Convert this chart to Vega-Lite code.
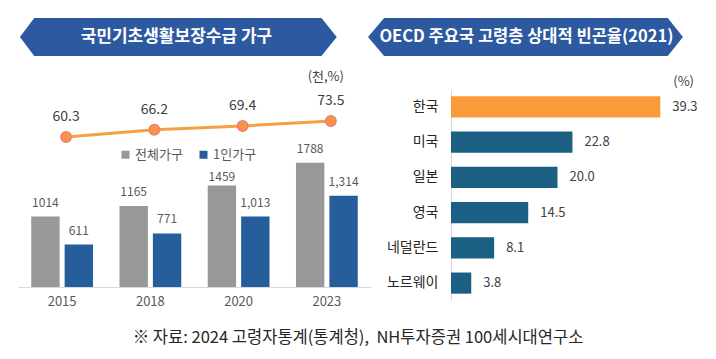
{
  "$schema": "https://vega.github.io/schema/vega-lite/v6.json",
  "padding": {"left": 18, "top": 18, "right": 0, "bottom": 0},
  "background": "white",
  "config": {
    "view": {"stroke": null},
    "font": "Noto Sans CJK KR"
  },
  "datasets": {
    "households": [
      {"year": "2015", "type": "전체가구", "value": 1014},
      {"year": "2015", "type": "1인가구", "value": 611},
      {"year": "2018", "type": "전체가구", "value": 1165},
      {"year": "2018", "type": "1인가구", "value": 771},
      {"year": "2020", "type": "전체가구", "value": 1459},
      {"year": "2020", "type": "1인가구", "value": 1013},
      {"year": "2023", "type": "전체가구", "value": 1788},
      {"year": "2023", "type": "1인가구", "value": 1314}
    ],
    "ratio": [
      {"year": "2015", "rate": 60.3},
      {"year": "2018", "rate": 66.2},
      {"year": "2020", "rate": 69.4},
      {"year": "2023", "rate": 73.5}
    ],
    "poverty": [
      {"country": "한국", "value": 39.3},
      {"country": "미국", "value": 22.8},
      {"country": "일본", "value": 20.0},
      {"country": "영국", "value": 14.5},
      {"country": "네덜란드", "value": 8.1},
      {"country": "노르웨이", "value": 3.8}
    ],
    "bannerL": [
      {"bx": 2, "lo": 0.5, "hi": 0.5},
      {"bx": 17, "lo": 0, "hi": 1},
      {"bx": 318, "lo": 0, "hi": 1},
      {"bx": 334, "lo": 0.5, "hi": 0.5}
    ],
    "bannerR": [
      {"bx": 0, "lo": 0.5, "hi": 0.5},
      {"bx": 17, "lo": 0, "hi": 1},
      {"bx": 316, "lo": 0, "hi": 1},
      {"bx": 332, "lo": 0.5, "hi": 0.5}
    ]
  },
  "spacing": 15,
  "vconcat": [
    {
      "bounds": "flush",
      "spacing": 16,
      "hconcat": [
        {
          "width": 334,
          "height": 38,
          "layer": [
            {
              "data": {"name": "bannerL"},
              "mark": {"type": "area", "color": "#2D59A0", "orient": "vertical"},
              "encoding": {
                "x": {"field": "bx", "type": "quantitative", "scale": {"domain": [0, 334]}, "axis": null},
                "y": {"field": "lo", "type": "quantitative", "scale": {"domain": [0, 1]}, "axis": null},
                "y2": {"field": "hi"}
              }
            },
            {
              "data": {"values": [{"title": "국민기초생활보장수급 가구"}]},
              "mark": {"type": "text", "color": "white", "fontSize": 17, "fontWeight": "bold", "align": "center", "baseline": "middle"},
              "encoding": {
                "x": {"datum": 166, "type": "quantitative"},
                "y": {"datum": 0.5, "type": "quantitative"},
                "text": {"field": "title"}
              }
            }
          ]
        },
        {
          "width": 332,
          "height": 38,
          "layer": [
            {
              "data": {"name": "bannerR"},
              "mark": {"type": "area", "color": "#2D59A0", "orient": "vertical"},
              "encoding": {
                "x": {"field": "bx", "type": "quantitative", "scale": {"domain": [0, 332]}, "axis": null},
                "y": {"field": "lo", "type": "quantitative", "scale": {"domain": [0, 1]}, "axis": null},
                "y2": {"field": "hi"}
              }
            },
            {
              "data": {"values": [{"title": "OECD 주요국 고령층 상대적 빈곤율(2021)"}]},
              "mark": {"type": "text", "color": "white", "fontSize": 16.5, "fontWeight": "bold", "align": "center", "baseline": "middle"},
              "encoding": {
                "x": {"datum": 167, "type": "quantitative"},
                "y": {"datum": 0.5, "type": "quantitative"},
                "text": {"field": "title"}
              }
            }
          ]
        }
      ]
    },
    {
      "bounds": "flush",
      "spacing": 80,
      "hconcat": [
        {
          "width": 353,
          "height": 197,
          "title": {"text": "(천,%)", "anchor": "end", "frame": "group", "fontSize": 13, "fontWeight": "normal", "color": "#404040", "offset": 6, "dx": -27},
          "layer": [
            {
              "data": {"name": "households"},
              "mark": {"type": "bar"},
              "encoding": {
                "x": {"field": "year", "type": "nominal", "title": null,
                  "scale": {"paddingInner": 0.3, "paddingOuter": 0.15},
                  "axis": {"labelAngle": 0, "ticks": false, "domainColor": "#D9D9D9", "labelFontSize": 13, "labelColor": "#595959", "labelPadding": 8}},
                "xOffset": {"field": "type", "sort": ["전체가구", "1인가구"], "scale": {"paddingInner": 0.15}},
                "y": {"field": "value", "type": "quantitative", "scale": {"domain": [0, 2835]}, "axis": null},
                "color": {"field": "type", "type": "nominal",
                  "scale": {"domain": ["전체가구", "1인가구"], "range": ["#989898", "#255E9B"]},
                  "legend": {"title": null, "orient": "none", "legendX": 101, "legendY": 130, "direction": "horizontal",
                    "symbolType": "square", "symbolSize": 64, "labelFontSize": 13, "labelColor": "#595959", "columnPadding": 14, "labelOffset": 3}}
              }
            },
            {
              "data": {"name": "households"},
              "transform": [{"filter": "datum.type === '전체가구' && datum.year !== '2020'"}],
              "mark": {"type": "text", "baseline": "bottom", "dy": -7, "fontSize": 12, "color": "#595959"},
              "encoding": {
                "x": {"field": "year", "type": "nominal"},
                "xOffset": {"field": "type", "sort": ["전체가구", "1인가구"]},
                "y": {"field": "value", "type": "quantitative", "scale": {"domain": [0, 2835]}, "axis": null},
                "text": {"field": "value", "type": "quantitative", "format": "d"}
              }
            },
            {
              "data": {"name": "households"},
              "transform": [{"filter": "datum.type === '전체가구' && datum.year === '2020'"}],
              "mark": {"type": "text", "baseline": "bottom", "dy": -2, "fontSize": 12, "color": "#595959"},
              "encoding": {
                "x": {"field": "year", "type": "nominal"},
                "xOffset": {"field": "type", "sort": ["전체가구", "1인가구"]},
                "y": {"field": "value", "type": "quantitative", "scale": {"domain": [0, 2835]}, "axis": null},
                "text": {"field": "value", "type": "quantitative", "format": "d"}
              }
            },
            {
              "data": {"name": "households"},
              "transform": [{"filter": "datum.type === '1인가구'"}],
              "mark": {"type": "text", "baseline": "bottom", "dy": -7, "fontSize": 12, "color": "#595959"},
              "encoding": {
                "x": {"field": "year", "type": "nominal"},
                "xOffset": {"field": "type", "sort": ["전체가구", "1인가구"]},
                "y": {"field": "value", "type": "quantitative", "scale": {"domain": [0, 2835]}, "axis": null},
                "text": {"field": "value", "type": "quantitative", "format": ","}
              }
            },
            {
              "data": {"name": "ratio"},
              "mark": {"type": "line", "color": "#F5A142", "strokeWidth": 3, "xOffset": 4},
              "encoding": {
                "x": {"field": "year", "type": "nominal"},
                "y": {"field": "rate", "type": "quantitative", "scale": {"domain": [-63.7, 99.1]}, "axis": null}
              }
            },
            {
              "data": {"name": "ratio"},
              "mark": {"type": "point", "filled": true, "size": 110, "fill": "#F7934A", "stroke": "#F27E6E", "strokeWidth": 1.5, "opacity": 1, "xOffset": 4},
              "encoding": {
                "x": {"field": "year", "type": "nominal"},
                "y": {"field": "rate", "type": "quantitative", "scale": {"domain": [-63.7, 99.1]}, "axis": null}
              }
            },
            {
              "data": {"name": "ratio"},
              "mark": {"type": "text", "dy": -20, "baseline": "middle", "fontSize": 14, "color": "#404040", "xOffset": 4},
              "encoding": {
                "x": {"field": "year", "type": "nominal"},
                "y": {"field": "rate", "type": "quantitative", "scale": {"domain": [-63.7, 99.1]}, "axis": null},
                "text": {"field": "rate", "type": "quantitative", "format": ".1f"}
              }
            }
          ],
          "resolve": {"scale": {"y": "independent"}}
        },
        {
          "width": 229,
          "height": 210,
          "title": {"text": "(%)", "anchor": "end", "frame": "group", "fontSize": 13, "fontWeight": "normal", "color": "#404040", "offset": 1, "dx": 14},
          "data": {"name": "poverty"},
          "encoding": {
            "y": {"field": "country", "type": "nominal", "sort": null, "title": null,
              "scale": {"paddingInner": 0.4, "paddingOuter": 0.18},
              "axis": {"ticks": false, "domainColor": "#D9D9D9", "labelFontSize": 14, "labelPadding": 13, "labelColor": "#262626"}},
            "x": {"field": "value", "type": "quantitative", "scale": {"domain": [0, 43]}, "axis": null}
          },
          "layer": [
            {
              "mark": {"type": "bar"},
              "encoding": {
                "color": {"condition": {"test": "datum.country === '한국'", "value": "#F89B38"}, "value": "#1B5F83"}
              }
            },
            {
              "mark": {"type": "text", "align": "left", "dx": 12, "fontSize": 13, "color": "#404040"},
              "encoding": {
                "text": {"field": "value", "type": "quantitative", "format": ".1f"}
              }
            }
          ]
        }
      ]
    },
    {
      "width": 680,
      "height": 30,
      "data": {"values": [{"note": "※ 자료: 2024 고령자통계(통계청),\u00a0 NH투자증권 100세시대연구소"}]},
      "mark": {"type": "text", "fontSize": 16.5, "color": "#262626", "align": "center", "baseline": "middle"},
      "encoding": {
        "x": {"datum": 0.5, "type": "quantitative", "scale": {"domain": [0, 1]}, "axis": null},
        "y": {"datum": 0.5, "type": "quantitative", "scale": {"domain": [0, 1]}, "axis": null},
        "text": {"field": "note"}
      }
    }
  ]
}
